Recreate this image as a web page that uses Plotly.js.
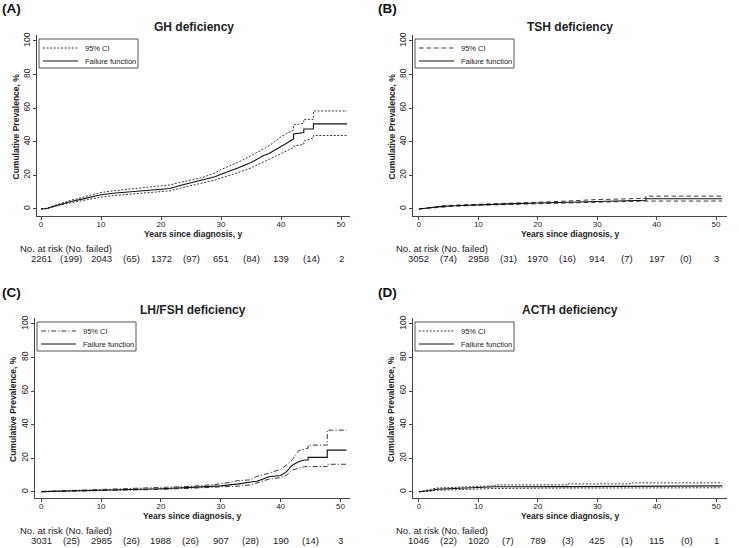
<!DOCTYPE html>
<html>
<head>
<meta charset="utf-8">
<script src="https://cdn.plot.ly/plotly-3.0.1.min.js"></script>
<style>html,body{margin:0;padding:0;background:#fff;}#chart{width:739px;height:548px;}</style>
</head>
<body>
<div id="chart"></div>
<script>
// ---------- Data ----------
const panelLabels = ["(A)", "(B)", "(C)", "(D)"];
const panelTitles = ["GH deficiency", "TSH deficiency", "LH/FSH deficiency", "ACTH deficiency"];
const riskTimes = [0, 10, 20, 30, 40, 50];
const failedTimes = [5, 15, 25, 35, 45];
const yTicks = [0, 20, 40, 60, 80, 100];
const xTicks = [0, 10, 20, 30, 40, 50];

// (A) GH deficiency
const ghTimeFF = [0, 1, 2, 3, 5, 7, 9, 10, 12, 15, 18, 20, 21.5, 23, 25, 27, 29, 30, 32, 33, 34, 35, 36, 37, 38, 40, 41, 42.1, 42.1, 43.8, 43.8, 45.4, 45.4, 51];
const ghFF     = [0, 0.3, 1.5, 2.6, 4.4, 6, 7.6, 8.4, 9.3, 10.3, 11, 11.8, 12.2, 13.8, 15.6, 17, 19.2, 20.6, 23, 24.6, 26.2, 27.6, 29.5, 31.6, 33, 37, 39.2, 41.8, 44.6, 45.4, 47.6, 47.6, 50.6, 50.6];
const ghTimeHi = [0, 1, 2, 3, 5, 7, 9, 10, 12, 15, 18, 20, 21.5, 23, 25, 27, 29, 30, 32, 33, 35, 37, 38, 40, 42.1, 42.1, 43.8, 43.8, 45.4, 45.4, 51];
const ghHi     = [0, 0.4, 1.8, 3.0, 5.2, 7.0, 8.7, 9.8, 10.8, 11.8, 12.8, 13.8, 14.3, 15.6, 17.2, 18.8, 21.5, 23.4, 26.5, 28, 31.7, 35.3, 37.5, 43, 47, 50, 51, 53.3, 53.3, 58.3, 58.3];
const ghTimeLo = [0, 1, 2, 3, 5, 7, 9, 10, 12, 15, 18, 20, 21.5, 23, 25, 27, 29, 30, 32, 33, 35, 37, 38, 40, 42.1, 42.1, 43.8, 43.8, 45.4, 45.4, 51];
const ghLo     = [0, 0.2, 1.2, 2.2, 3.7, 5.1, 6.5, 7.0, 7.9, 8.8, 9.6, 10.4, 10.8, 12.2, 13.8, 15.3, 17.2, 18.4, 20.5, 21.8, 24.4, 27.8, 29.5, 33.3, 36.5, 37.3, 38.5, 40.3, 42.3, 43.7, 43.7];
const ghAtRisk = [2261, 2043, 1372, 651, 139, 2];
const ghFailed = [199, 65, 97, 84, 14];

// (B) TSH deficiency
const tshTimeFF = [0, 2, 4, 6, 10, 15, 20, 25, 30, 35, 38.2, 38.2, 51];
const tshFF     = [0, 0.8, 1.5, 1.9, 2.5, 3.0, 3.5, 4.0, 4.6, 5.0, 5.2, 6.1, 6.1];
const tshTimeHi = [0, 2, 4, 6, 10, 15, 20, 25, 30, 35, 38.2, 38.2, 51];
const tshHi     = [0, 1.0, 1.8, 2.3, 2.9, 3.5, 4.0, 4.7, 5.6, 6.0, 6.3, 7.6, 7.6];
const tshTimeLo = [0, 2, 4, 6, 10, 15, 20, 25, 30, 35, 38.2, 38.2, 51];
const tshLo     = [0, 0.6, 1.2, 1.6, 2.2, 2.6, 3.0, 3.4, 3.8, 4.2, 4.4, 4.7, 4.7];
const tshAtRisk = [3052, 2958, 1970, 914, 197, 3];
const tshFailed = [74, 31, 16, 7, 0];

// (C) LH/FSH deficiency
const lhTimeFF = [0, 5, 10, 15, 20, 25, 30, 33, 35, 36, 37, 38, 40, 41, 42, 43, 44, 44.6, 44.6, 47.8, 47.8, 51];
const lhFF     = [0.1, 0.5, 1.0, 1.4, 1.8, 2.6, 3.5, 4.7, 5.5, 6.3, 7.5, 9.0, 9.7, 12, 16, 17.9, 18.9, 18.9, 20.5, 20.5, 24.8, 24.8];
const lhTimeHi = [0, 5, 10, 15, 20, 25, 30, 33, 35, 36, 38, 40, 41, 42, 43, 44.6, 44.6, 47.8, 47.8, 51];
const lhHi     = [0.2, 0.8, 1.3, 1.8, 2.3, 3.2, 4.7, 6.7, 7.1, 9.1, 11, 13.4, 16, 19.3, 24.5, 26, 27.8, 27.8, 36.7, 36.7];
const lhTimeLo = [0, 5, 10, 15, 20, 25, 30, 33, 35, 37, 38, 40, 41, 42, 43, 44, 44.6, 47.8, 47.8, 51];
const lhLo     = [0.0, 0.3, 0.7, 1.0, 1.4, 2.1, 2.8, 3.4, 4.1, 6.1, 7.5, 8.5, 10, 13, 14, 15, 15, 15, 16.4, 16.4];
const lhAtRisk = [3031, 2985, 1988, 907, 190, 3];
const lhFailed = [25, 26, 26, 28, 14];

// (D) ACTH deficiency
const acthTimeFF = [0, 1, 2, 3, 5, 7, 8, 10, 12.8, 12.8, 25, 35.5, 35.5, 51];
const acthFF     = [0, 0.3, 0.8, 1.5, 1.8, 2.0, 2.3, 2.5, 2.7, 3.0, 3.1, 3.1, 3.5, 3.5];
const acthTimeHi = [0, 1, 2, 3, 5, 7, 8, 10, 12.8, 12.8, 25, 25, 35.5, 35.5, 51];
const acthHi     = [0, 0.6, 1.3, 2.2, 2.5, 2.8, 3.3, 3.5, 3.6, 4.1, 4.1, 4.7, 4.7, 5.3, 5.3];
const acthTimeLo = [0, 1, 2, 3, 5, 7, 8, 10, 13, 25, 35.5, 51];
const acthLo     = [0, 0.1, 0.4, 0.9, 1.2, 1.4, 1.6, 1.8, 2.0, 2.2, 2.3, 2.4];
const acthAtRisk = [1046, 1020, 789, 425, 115, 1];
const acthFailed = [22, 7, 3, 1, 0];

// ---------- Layout helpers ----------
const W = 739, H = 548;
const FONT = "Liberation Sans, Arial, Helvetica, sans-serif";
const px = v => v / W;
const py = v => 1 - v / H;

const panels = [
  {ff:[ghTimeFF, ghFF], hi:[ghTimeHi, ghHi], lo:[ghTimeLo, ghLo], risk: ghAtRisk, failed: ghFailed,
   dash: "2px,1.6px", x0: 37, x1: 350, yTop: 35, yBot: 216, xr: [-0.67, 51.5], yr: [-4.2, 103.5], left: 0},
  {ff:[tshTimeFF, tshFF], hi:[tshTimeHi, tshHi], lo:[tshTimeLo, tshLo], risk: tshAtRisk, failed: tshFailed,
   dash: "4.5px,3px", x0: 413, x1: 727, yTop: 35, yBot: 216, xr: [-1.0, 51.85], yr: [-4.2, 103.5], left: 376},
  {ff:[lhTimeFF, lhFF], hi:[lhTimeHi, lhHi], lo:[lhTimeLo, lhLo], risk: lhAtRisk, failed: lhFailed,
   dash: "5px,2px,1.2px,2px", x0: 35, x1: 350, yTop: 318, yBot: 498, xr: [-1.05, 51.6], yr: [-3.7, 103.5], left: 0},
  {ff:[acthTimeFF, acthFF], hi:[acthTimeHi, acthHi], lo:[acthTimeLo, acthLo], risk: acthAtRisk, failed: acthFailed,
   dash: "2px,1.6px", x0: 413, x1: 727, yTop: 318, yBot: 498, xr: [-1.0, 51.8], yr: [-3.7, 103.5], left: 376}
];

const traces = [];
const layout = {
  width: W, height: H,
  margin: {l: 0, r: 0, t: 0, b: 0},
  paper_bgcolor: "#ffffff", plot_bgcolor: "rgba(0,0,0,0)",
  showlegend: false,
  font: {family: FONT, color: "#222"},
  annotations: [], shapes: []
};

panels.forEach((p, i) => {
  const n = i + 1;
  const xa = "x" + (n === 1 ? "" : n), ya = "y" + (n === 1 ? "" : n);
  const xKey = "xaxis" + (n === 1 ? "" : n), yKey = "yaxis" + (n === 1 ? "" : n);
  const ciColor = "#3a3a3a";
  [[p.hi, "95% CI"], [p.lo, "95% CI"]].forEach(([d, nm]) => {
    traces.push({x: d[0], y: d[1], xaxis: xa, yaxis: ya, type: "scatter", mode: "lines", name: nm,
      line: {color: ciColor, width: 1, dash: p.dash}, hoverinfo: "skip"});
  });
  traces.push({x: p.ff[0], y: p.ff[1], xaxis: xa, yaxis: ya, type: "scatter", mode: "lines", name: "Failure function",
    line: {color: "#111", width: 1.1}, hoverinfo: "skip"});

  layout[xKey] = {
    domain: [px(p.x0), px(p.x1)], range: p.xr, anchor: ya,
    showline: true, linecolor: "#444", linewidth: 1, mirror: false,
    ticks: "outside", ticklen: 3, tickcolor: "#444", tickwidth: 1,
    ticklabelstandoff: -3,
    tickvals: xTicks, ticktext: xTicks.map(String),
    tickfont: {size: 8, family: FONT, color: "#222"},
    showgrid: false, zeroline: false, fixedrange: true
  };
  layout[yKey] = {
    domain: [py(p.yBot), py(p.yTop)], range: p.yr, anchor: xa,
    showline: true, linecolor: "#444", linewidth: 1,
    ticks: "outside", ticklen: 3, tickcolor: "#444", tickwidth: 1,
    tickvals: yTicks, ticktext: yTicks.map(String), tickangle: -90,
    tickfont: {size: 8.5, family: FONT, color: "#222"},
    showgrid: false, zeroline: false, fixedrange: true
  };

  const cx = (p.x0 + p.x1) / 2;
  // panel label
  layout.annotations.push({text: "<b>" + panelLabels[i] + "</b>", xref: "paper", yref: "paper",
    x: px(p.left), y: py(p.yTop - 26), xanchor: "left", yanchor: "middle", showarrow: false,
    font: {size: 13.5, family: FONT, color: "#111"}});
  // panel title
  layout.annotations.push({text: "<b>" + panelTitles[i] + "</b>", xref: "paper", yref: "paper",
    x: px(cx), y: py(p.yTop - 8), xanchor: "center", yanchor: "middle", showarrow: false,
    font: {size: 12, family: FONT, color: "#222"}});
  // y-axis title
  layout.annotations.push({text: "<b>Cumulative Prevalence, %</b>", xref: "paper", yref: "paper",
    x: px(p.x0 - 22), y: py((p.yTop + p.yBot) / 2 + 1), xanchor: "center", yanchor: "middle", textangle: -90,
    showarrow: false, font: {size: 8.5, family: FONT, color: "#222"}});
  // x-axis title
  layout.annotations.push({text: "<b>Years since diagnosis, y</b>", xref: "paper", yref: "paper",
    x: px(cx), y: py(p.yBot + 18), xanchor: "center", yanchor: "middle", showarrow: false,
    font: {size: 8.5, family: FONT, color: "#222"}});
  // risk table header
  layout.annotations.push({text: "No. at risk (No. failed)", xref: "paper", yref: "paper",
    x: px(p.left + 18), y: py(p.yBot + 32), xanchor: "left", yanchor: "middle", showarrow: false,
    font: {size: 9.5, family: FONT, color: "#222"}});
  // risk numbers
  riskTimes.forEach((t, k) => {
    layout.annotations.push({text: String(p.risk[k]), xref: xa, yref: "paper", x: t, y: py(p.yBot + 42),
      xanchor: "center", yanchor: "middle", showarrow: false, font: {size: 9.5, family: FONT, color: "#222"}});
  });
  failedTimes.forEach((t, k) => {
    layout.annotations.push({text: "(" + p.failed[k] + ")", xref: xa, yref: "paper", x: t, y: py(p.yBot + 42),
      xanchor: "center", yanchor: "middle", showarrow: false, font: {size: 9.5, family: FONT, color: "#222"}});
  });

  // legend box (drawn manually to match the compact Stata legend)
  const lx0 = p.x0 + 2, lx1 = p.x0 + 101, ly0 = p.yTop + 4, ly1 = p.yTop + 33;
  layout.shapes.push({type: "rect", xref: "paper", yref: "paper", x0: px(lx0), x1: px(lx1), y0: py(ly1), y1: py(ly0),
    line: {color: "#555", width: 1}, fillcolor: "rgba(255,255,255,0)"});
  layout.shapes.push({type: "line", xref: "paper", yref: "paper", x0: px(lx0 + 4), x1: px(lx0 + 39),
    y0: py(ly0 + 9), y1: py(ly0 + 9), line: {color: ciColor, width: 1, dash: p.dash}});
  layout.shapes.push({type: "line", xref: "paper", yref: "paper", x0: px(lx0 + 4), x1: px(lx0 + 39),
    y0: py(ly0 + 22), y1: py(ly0 + 22), line: {color: "#111", width: 1.1}});
  layout.annotations.push({text: "95% CI", xref: "paper", yref: "paper", x: px(lx0 + 44), y: py(ly0 + 9),
    xanchor: "left", yanchor: "middle", showarrow: false, font: {size: 7.5, family: FONT, color: "#222"}});
  layout.annotations.push({text: "Failure function", xref: "paper", yref: "paper", x: px(lx0 + 44), y: py(ly0 + 22),
    xanchor: "left", yanchor: "middle", showarrow: false, font: {size: 7.5, family: FONT, color: "#222"}});
});

Plotly.newPlot("chart", traces, layout, {staticPlot: true, displayModeBar: false});
</script>
</body>
</html>
